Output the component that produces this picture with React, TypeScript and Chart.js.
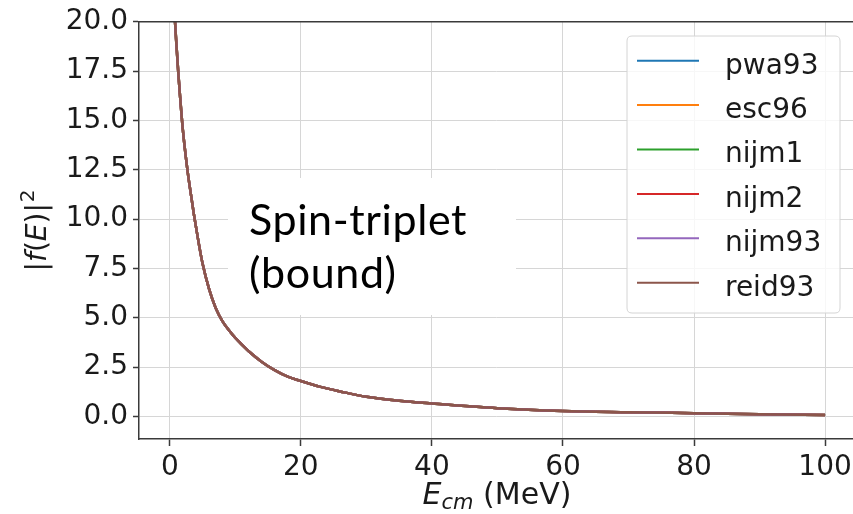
import React, { useEffect, useRef } from "react";
import { Chart, registerables } from "chart.js";

Chart.register(...registerables);

// Centre-of-mass energy (MeV)
const energies = [0.3, 0.5, 0.76, 1, 1.28, 1.5, 1.79, 2, 2.65, 3, 3.7, 4, 4.5, 5, 6, 7, 8, 9, 10, 12, 14, 16, 18, 20, 23, 26, 30, 35, 40, 50, 60, 70, 80, 90, 100];

// |f(E)|^2 for each potential model (curves coincide at this scale)
const pwa93 = [23.3, 21.9, 20.2, 18.9, 17.5, 16.5, 15.3, 14.5, 12.6, 11.75, 10.2, 9.6, 8.62, 7.75, 6.45, 5.5, 4.85, 4.38, 3.98, 3.32, 2.78, 2.35, 2.02, 1.8, 1.5, 1.27, 1.0, 0.8, 0.66, 0.42, 0.28, 0.22, 0.17, 0.12, 0.07];
const esc96 = [23.3, 21.9, 20.2, 18.9, 17.5, 16.5, 15.3, 14.5, 12.6, 11.75, 10.2, 9.6, 8.62, 7.75, 6.45, 5.5, 4.85, 4.38, 3.98, 3.32, 2.78, 2.35, 2.02, 1.8, 1.5, 1.27, 1.0, 0.8, 0.66, 0.42, 0.28, 0.22, 0.17, 0.12, 0.07];
const nijm1 = [23.3, 21.9, 20.2, 18.9, 17.5, 16.5, 15.3, 14.5, 12.6, 11.75, 10.2, 9.6, 8.62, 7.75, 6.45, 5.5, 4.85, 4.38, 3.98, 3.32, 2.78, 2.35, 2.02, 1.8, 1.5, 1.27, 1.0, 0.8, 0.66, 0.42, 0.28, 0.22, 0.17, 0.12, 0.07];
const nijm2 = [23.3, 21.9, 20.2, 18.9, 17.5, 16.5, 15.3, 14.5, 12.6, 11.75, 10.2, 9.6, 8.62, 7.75, 6.45, 5.5, 4.85, 4.38, 3.98, 3.32, 2.78, 2.35, 2.02, 1.8, 1.5, 1.27, 1.0, 0.8, 0.66, 0.42, 0.28, 0.22, 0.17, 0.12, 0.07];
const nijm93 = [23.3, 21.9, 20.2, 18.9, 17.5, 16.5, 15.3, 14.5, 12.6, 11.75, 10.2, 9.6, 8.62, 7.75, 6.45, 5.5, 4.85, 4.38, 3.98, 3.32, 2.78, 2.35, 2.02, 1.8, 1.5, 1.27, 1.0, 0.8, 0.66, 0.42, 0.28, 0.22, 0.17, 0.12, 0.07];
const reid93 = [23.3, 21.9, 20.2, 18.9, 17.5, 16.5, 15.3, 14.5, 12.6, 11.75, 10.2, 9.6, 8.62, 7.75, 6.45, 5.5, 4.85, 4.38, 3.98, 3.32, 2.78, 2.35, 2.02, 1.8, 1.5, 1.27, 1.0, 0.8, 0.66, 0.42, 0.28, 0.22, 0.17, 0.12, 0.07];

const seriesLabels = ["pwa93", "esc96", "nijm1", "nijm2", "nijm93", "reid93"];
const seriesValues = [pwa93, esc96, nijm1, nijm2, nijm93, reid93];
const seriesColors = ["#1f77b4", "#ff7f0e", "#2ca02c", "#d62728", "#9467bd", "#8c564b"];

const xTickStep = 20;
const yTickStep = 2.5;
const annotationLines = ["Spin-triplet", "(bound)"];

const TICK_FONT = "'DejaVu Sans', sans-serif";
const SPINE = "#3a3a3a";
const TICK_SIZE = 28;

const decorPlugin = {
  id: "decor",
  beforeDatasetsDraw(chart: any) {
    const { ctx } = chart;
    ctx.save();
    ctx.fillStyle = "#ffffff";
    ctx.fillRect(228, 178, 288, 137);
    ctx.restore();
  },
  afterDatasetsDraw(chart: any) {
    const { ctx, chartArea } = chart;
    ctx.save();
    // top spine
    ctx.strokeStyle = SPINE;
    ctx.lineWidth = 1.5;
    ctx.beginPath();
    ctx.moveTo(chartArea.left, chartArea.top);
    ctx.lineTo(chartArea.right, chartArea.top);
    ctx.stroke();

    // annotation
    ctx.save();
    ctx.fillStyle = "#000";
    ctx.font = "43px Lato, 'Open Sans', sans-serif";
    try { (ctx as any).letterSpacing = "0.6px"; } catch (e) {}
    ctx.textBaseline = "alphabetic";
    ctx.textAlign = "left";
    ctx.fillText(annotationLines[0], 249, 235);
    ctx.fillText(annotationLines[1], 249, 288);
    ctx.restore();

    // legend
    const bx = 627, by = 36, bw = 213, bh = 277, r = 5;
    ctx.beginPath();
    ctx.moveTo(bx + r, by);
    ctx.lineTo(bx + bw - r, by);
    ctx.quadraticCurveTo(bx + bw, by, bx + bw, by + r);
    ctx.lineTo(bx + bw, by + bh - r);
    ctx.quadraticCurveTo(bx + bw, by + bh, bx + bw - r, by + bh);
    ctx.lineTo(bx + r, by + bh);
    ctx.quadraticCurveTo(bx, by + bh, bx, by + bh - r);
    ctx.lineTo(bx, by + r);
    ctx.quadraticCurveTo(bx, by, bx + r, by);
    ctx.closePath();
    ctx.fillStyle = "rgba(255,255,255,0.8)";
    ctx.fill();
    ctx.strokeStyle = "#d4d4d4";
    ctx.lineWidth = 1;
    ctx.stroke();

    ctx.font = `${TICK_SIZE}px ${TICK_FONT}`;
    ctx.fillStyle = "#1a1a1a";
    chart.data.datasets.forEach((ds: any, i: number) => {
      const yy = 60.7 + i * 44.4;
      ctx.strokeStyle = ds.borderColor;
      ctx.lineWidth = 2;
      ctx.beginPath();
      ctx.moveTo(637, yy);
      ctx.lineTo(699, yy);
      ctx.stroke();
      ctx.fillText(ds.label, 725, yy + 12.8);
    });

    // y-axis title |f(E)|^2
    const fs = 28;
    const pieces: [string, string, number, number][] = [
      ["|", `${fs}px ${TICK_FONT}`, 0, 0],
      ["f", `italic ${fs}px ${TICK_FONT}`, 0, 0],
      ["(", `${fs}px ${TICK_FONT}`, 0, 0],
      ["E", `italic ${fs}px ${TICK_FONT}`, 0, 0],
      [")", `${fs}px ${TICK_FONT}`, 0, 0],
      ["|", `${fs}px ${TICK_FONT}`, 0, 0],
      ["2", `${Math.round(fs * 0.7)}px ${TICK_FONT}`, -12, 1],
    ];
    let total = 0;
    const widths = pieces.map((p) => {
      ctx.font = p[1];
      const w = ctx.measureText(p[0]).width + p[3];
      total += w;
      return w;
    });
    ctx.save();
    ctx.translate(46, (chartArea.top + 439) / 2);
    ctx.rotate(-Math.PI / 2);
    let px = -total / 2;
    pieces.forEach((p, i) => {
      ctx.font = p[1];
      ctx.fillText(p[0], px + p[3], p[2]);
      px += widths[i];
    });
    ctx.restore();

    // x-axis title E_cm (MeV)
    const xs = 30;
    const xp: [string, string, number][] = [
      ["E", `italic ${xs}px ${TICK_FONT}`, 0],
      ["cm", `italic ${Math.round(xs * 0.7)}px ${TICK_FONT}`, 5],
      [" (MeV)", `${xs}px ${TICK_FONT}`, 0],
    ];
    let tw = 0;
    const xw = xp.map((p) => {
      ctx.font = p[1];
      const w = ctx.measureText(p[0]).width;
      tw += w;
      return w;
    });
    let sx = 497 - tw / 2;
    xp.forEach((p, i) => {
      ctx.font = p[1];
      ctx.fillText(p[0], sx, 504 + p[2]);
      sx += xw[i];
    });
    ctx.restore();
  },
};

export default function App() {
  const ref = useRef<HTMLCanvasElement>(null);

  useEffect(() => {
    const canvas = ref.current;
    if (!canvas) return;
    const datasets = seriesLabels.map((label, i) => ({
      label,
      data: energies.map((e, j) => ({ x: e, y: seriesValues[i][j] })),
      borderColor: seriesColors[i],
      backgroundColor: seriesColors[i],
      borderWidth: 2.5,
      pointRadius: 0,
      fill: false,
      cubicInterpolationMode: "monotone" as const,
      order: seriesLabels.length - i,
    }));

    const gridCommon = {
      color: "#d6d6d6",
      lineWidth: 1,
      tickColor: SPINE,
      tickWidth: 1.5,
    };

    const chart = new Chart(canvas, {
      type: "line",
      data: { datasets },
      plugins: [decorPlugin],
      options: {
        responsive: false,
        animation: false,
        events: [],
        layout: { padding: { top: 21, right: 0, left: 0, bottom: 0 } },
        plugins: { legend: { display: false }, tooltip: { enabled: false } },
        scales: {
          x: {
            type: "linear",
            min: -4.7,
            max: 104.26,
            afterFit: (s: any) => {
              s.height = 75;
              s.paddingLeft = 0;
              s.paddingRight = 0;
            },
            ticks: {
              stepSize: xTickStep,
              includeBounds: false,
              autoSkip: false,
              maxRotation: 0,
              padding: 5,
              color: "#1a1a1a",
              font: { family: TICK_FONT, size: TICK_SIZE },
              callback: (v: any) => String(v),
            },
            grid: { ...gridCommon, tickLength: 7 },
            border: { display: true, color: SPINE, width: 1.5 },
          },
          y: {
            type: "linear",
            min: -1.14,
            max: 20,
            afterFit: (s: any) => {
              s.width = 139;
            },
            ticks: {
              stepSize: yTickStep,
              includeBounds: false,
              autoSkip: false,
              padding: 5,
              color: "#1a1a1a",
              font: { family: TICK_FONT, size: TICK_SIZE },
              callback: (v: any) => Number(v).toFixed(1),
            },
            grid: { ...gridCommon, tickLength: 6 },
            border: { display: true, color: SPINE, width: 1.5 },
          },
        },
      },
    } as any);
    return () => chart.destroy();
  }, []);

  return (
    <div style={{ position: "fixed", left: 0, top: 0, width: 853, height: 514, background: "#ffffff", overflow: "hidden" }}>
      <canvas ref={ref} width={853} height={514} style={{ display: "block", width: 853, height: 514 }} />
    </div>
  );
}
